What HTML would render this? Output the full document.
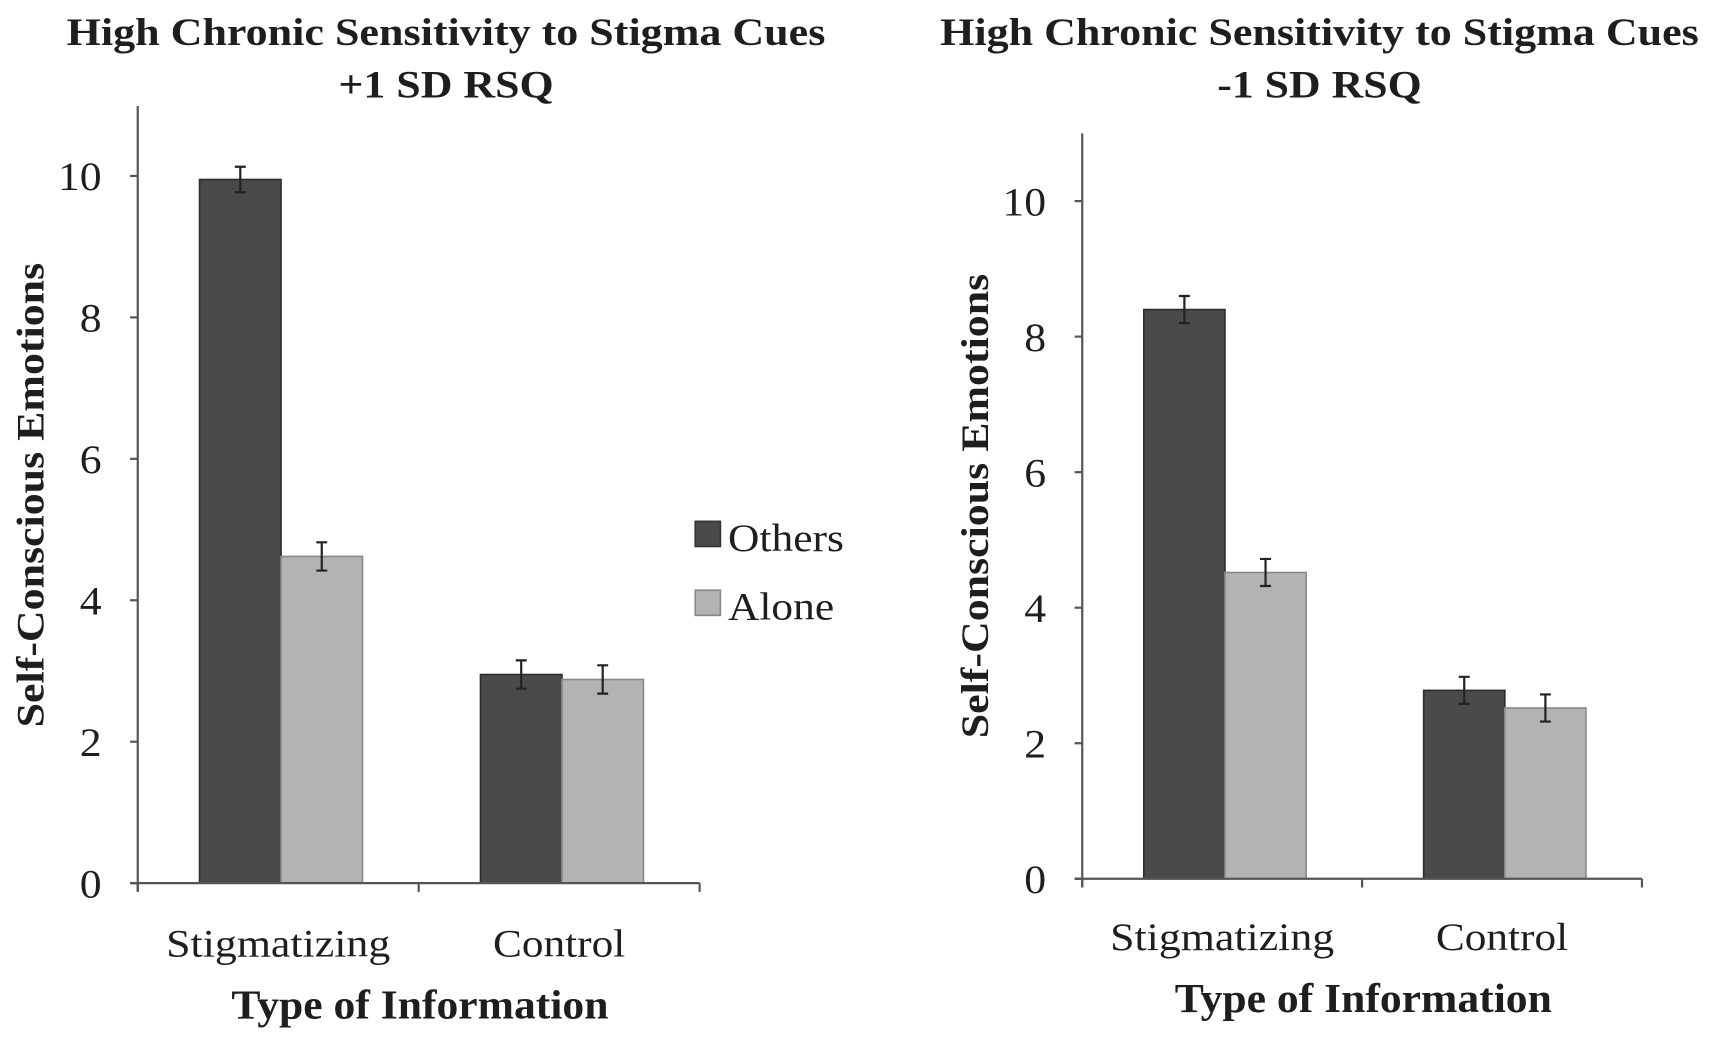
<!DOCTYPE html>
<html><head><meta charset="utf-8"><style>
html,body{margin:0;padding:0;background:#fff;}
svg{display:block;}
text{font-family:"Liberation Serif",serif;fill:#1e1e1e;}
.b{font-weight:bold;}
</style></head><body>
<svg id="chart" width="1713" height="1046" viewBox="0 0 1567 957" preserveAspectRatio="none" xmlns="http://www.w3.org/2000/svg">
<g id="left"></g>
<g id="right"></g>
<g>
  <rect x="636" y="477" width="23" height="23" fill="#4a4a4a" stroke="#333" stroke-width="1.5"/>
  <text x="666" y="504" font-size="36" textLength="106" lengthAdjust="spacingAndGlyphs">Others</text>
  <rect x="636" y="540" width="23" height="23" fill="#b3b3b3" stroke="#888" stroke-width="1.5"/>
  <text x="666" y="567" font-size="36" textLength="97" lengthAdjust="spacingAndGlyphs">Alone</text>
</g>
</svg>
<script>
const categories = ["Stigmatizing", "Control"];
const seriesNames = ["Others", "Alone"];
const highOthers = [9.95, 2.95];
const highAlone = [4.62, 2.88];
const highErr = [[0.18, 0.2], [0.2, 0.2]];
const lowOthers = [8.4, 2.78];
const lowAlone = [4.52, 2.52];
const lowErr = [[0.2, 0.2], [0.2, 0.2]];
const yTicks = [0, 2, 4, 6, 8, 10];

const NS = "http://www.w3.org/2000/svg";
function mk(parent, tag, attrs, txt) {
  const e = document.createElementNS(NS, tag);
  for (const k in attrs) e.setAttribute(k, attrs[k]);
  if (txt !== undefined) e.textContent = txt;
  parent.appendChild(e);
  return e;
}
function panel(g, cfg, others, alone, errs) {
  const y = v => cfg.y0 - v * cfg.unit;
  const catW = (cfg.xEnd - cfg.ax) / categories.length;
  const barW = catW * 0.29;
  let t = mk(g, "text", {x: cfg.cx, y: 41, "font-size": 36, "text-anchor": "middle", class: "b", textLength: 694, lengthAdjust: "spacingAndGlyphs"}, "High Chronic Sensitivity to Stigma Cues");
  
  
  t = mk(g, "text", {x: cfg.cx, y: 89, "font-size": 36, "text-anchor": "middle", class: "b", textLength: cfg.subLen, lengthAdjust: "spacingAndGlyphs"}, cfg.sub);
  
  
  const series = [others, alone];
  const fills = ["#4a4a4a", "#b3b3b3"], strokes = ["#2e2e2e", "#8a8a8a"];
  const catLens = [205, 121];
  categories.forEach((c, i) => {
    const cStart = cfg.ax + i * catW + catW * 0.22;
    series.forEach((vals, s) => {
      const x = cStart + s * barW;
      const r = mk(g, "rect", {x: x, y: y(vals[i]), width: barW, height: y(0) - y(vals[i]), fill: fills[s], stroke: strokes[s], "stroke-width": 1.5});
      
      
      const mx = x + barW / 2, e = errs[i][s];
      const eb = mk(g, "path", {d: `M${mx-5},${y(vals[i]+e)}H${mx+5}M${mx},${y(vals[i]+e)}V${y(vals[i]-e)}M${mx-5},${y(vals[i]-e)}H${mx+5}`, stroke: "#222", "stroke-width": 2, fill: "none"});
      
      
    });
    const lbl = mk(g, "text", {x: cfg.ax + (i + 0.5) * catW, y: 875 + cfg.catDy, "font-size": 36, "text-anchor": "middle", textLength: catLens[i], lengthAdjust: "spacingAndGlyphs"}, c);
    
    
  });
  const ya = mk(g, "line", {x1: cfg.ax, x2: cfg.ax, y1: cfg.top, y2: y(0) + 8, stroke: "#555", "stroke-width": 2});
  
  
  const xa = mk(g, "line", {x1: cfg.ax - 7, x2: cfg.xEnd, y1: y(0), y2: y(0), stroke: "#555", "stroke-width": 2});
  
  
  for (let i = 0; i <= categories.length; i++) {
    const tx = cfg.ax + i * catW;
    const tk = mk(g, "line", {x1: tx, x2: tx, y1: y(0), y2: y(0) + 8, stroke: "#555", "stroke-width": 2});
    
    
  }
  yTicks.forEach(v => {
    const tk = mk(g, "line", {x1: cfg.ax - 7, x2: cfg.ax, y1: y(v), y2: y(v), stroke: "#555", "stroke-width": 2});
    
    
    const s = String(v);
    const tl = mk(g, "text", {x: cfg.ax - 33, y: y(v) + 13, "font-size": 37, "text-anchor": "end", textLength: 20 * s.length, lengthAdjust: "spacingAndGlyphs"}, s);
    
    
  });
  const yt = mk(g, "text", {x: 0, y: 0, "font-size": 36, "text-anchor": "middle", class: "b", textLength: 425, lengthAdjust: "spacingAndGlyphs", transform: `translate(${cfg.ylx},${cfg.yly}) rotate(-90)`}, "Self-Conscious Emotions");
  
  
  const xt = mk(g, "text", {x: cfg.ax + catW * 1.02 - 4, y: cfg.xty, "font-size": 38, "text-anchor": "middle", class: "b", textLength: 345, lengthAdjust: "spacingAndGlyphs"}, "Type of Information");
  
  
}
panel(document.getElementById("left"), {cx: 408, sub: "+1 SD RSQ", subLen: 197, ax: 126, xEnd: 640, y0: 808, unit: 64.7, top: 97, ylx: 40, yly: 453, xty: 932, catDy: 0}, highOthers, highAlone, highErr);
panel(document.getElementById("right"), {cx: 1207, sub: "-1 SD RSQ", subLen: 187, ax: 990, xEnd: 1502, y0: 804, unit: 62, top: 122, ylx: 904, yly: 463, xty: 926, catDy: -6}, lowOthers, lowAlone, lowErr);
</script>
</body></html>
